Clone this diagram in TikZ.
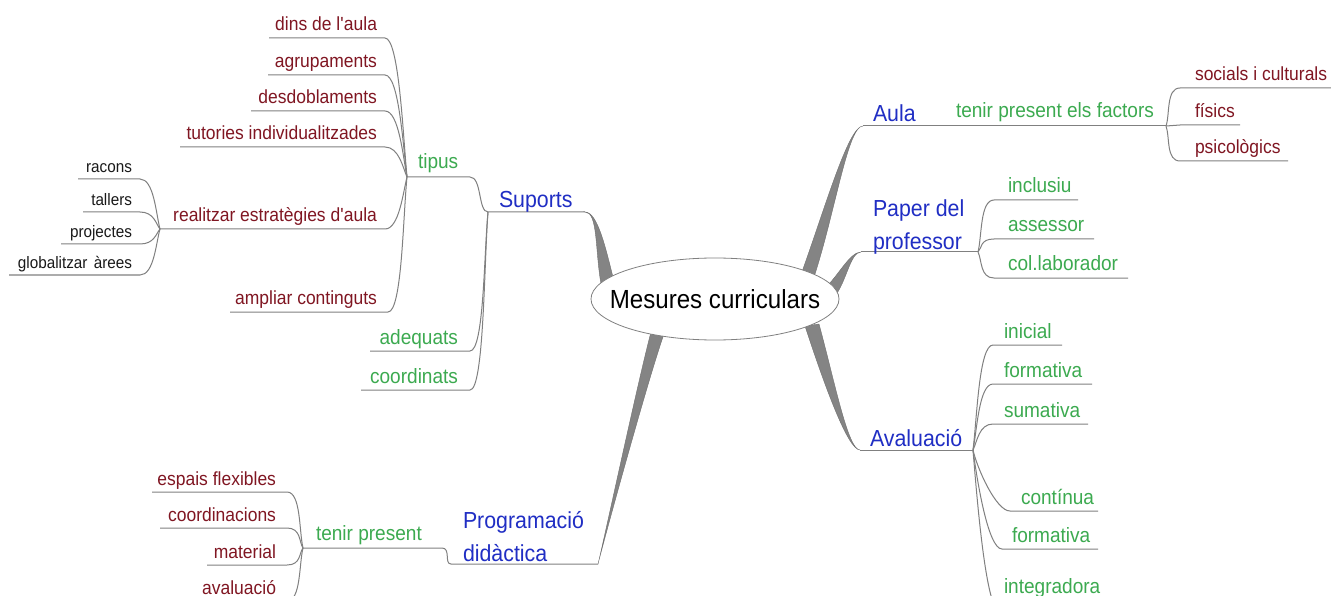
\documentclass[tikz,border=0pt]{standalone}
\usepackage{fontspec}
\setmainfont{Liberation Sans}[FakeStretch=0.92]
\usetikzlibrary{calc,shapes.geometric}
\definecolor{bluT}{RGB}{32,46,196}
\definecolor{grnT}{RGB}{60,170,80}
\definecolor{redT}{RGB}{128,22,34}
\definecolor{smlT}{RGB}{25,25,25}
\definecolor{lineC}{RGB}{128,128,128}
\definecolor{trunkC}{RGB}{132,132,132}
\begin{document}
\begin{tikzpicture}[x=1pt,y=1pt,
  lnk/.style={draw=lineC, line width=1pt},
  trunk/.style={fill=trunkC, draw=trunkC!85!black, line width=0.4pt},
  txt/.style={inner sep=0pt, outer sep=0pt},
  bluN/.style={txt, text=bluT, font=\fontsize{23.2}{33}\selectfont},
  grnN/.style={txt, text=grnT, font=\fontsize{20.7}{25}\selectfont},
  redN/.style={txt, text=redT, font=\fontsize{19.0}{23}\selectfont},
  smlN/.style={txt, text=smlT, font=\fontsize{16.6}{20}\selectfont}]
\useasboundingbox (0,0) rectangle (1331,-596);
\fill[white] (0,0) rectangle (1331,-596);
\clip (0,0) rectangle (1331,-596);

% ---------- coordinates ----------
% Suports
\coordinate (sF) at (488,-212); \coordinate (sE) at (585,-212);
\coordinate (tF) at (407,-177); \coordinate (tE) at (470,-177);
\coordinate (dR) at (385,-38);  \coordinate (dL) at (269,-38);
\coordinate (gR) at (385,-75);  \coordinate (gL) at (268,-75);
\coordinate (eR) at (385,-111); \coordinate (eL) at (251,-111);
\coordinate (uR) at (385,-147); \coordinate (uL) at (180,-147);
\coordinate (rR) at (385,-229); \coordinate (rF) at (160,-229);
\coordinate (aR) at (388,-312); \coordinate (aL) at (230,-312);
\coordinate (kR) at (140,-179); \coordinate (kL) at (78,-179);
\coordinate (lR) at (140,-212); \coordinate (lL) at (83,-212);
\coordinate (jR) at (140,-244); \coordinate (jL) at (61,-244);
\coordinate (bR) at (140,-275); \coordinate (bL) at (9,-275);
\coordinate (qR) at (470,-351); \coordinate (qL) at (370,-351);
\coordinate (oR) at (470,-390); \coordinate (oL) at (361,-390);
% Programacio
\coordinate (pS) at (451,-564); \coordinate (pE) at (598,-564);
\coordinate (tpF) at (303,-548); \coordinate (tpR) at (442,-548);
\coordinate (x1R) at (287,-492); \coordinate (x1L) at (152,-492);
\coordinate (x2R) at (287,-528); \coordinate (x2L) at (160,-528);
\coordinate (x3R) at (287,-565); \coordinate (x3L) at (207,-565);
\coordinate (x4R) at (287,-601); \coordinate (x4L) at (200,-601);
% Aula
\coordinate (aS) at (863,-126); \coordinate (aF) at (1166,-126);
\coordinate (y1L) at (1180,-88);  \coordinate (y1E) at (1331,-88);
\coordinate (y2L) at (1180,-125); \coordinate (y2E) at (1240,-125);
\coordinate (y3L) at (1180,-161); \coordinate (y3E) at (1288,-161);
% Paper
\coordinate (ppS) at (861,-252); \coordinate (ppF) at (978,-252);
\coordinate (z1L) at (994,-200); \coordinate (z1E) at (1078,-200);
\coordinate (z2L) at (994,-239); \coordinate (z2E) at (1094,-239);
\coordinate (z3L) at (994,-278); \coordinate (z3E) at (1128,-278);
% Avaluacio
\coordinate (avS) at (860,-450); \coordinate (avF) at (973,-450);
\coordinate (w1L) at (993,-345);  \coordinate (w1E) at (1062,-345);
\coordinate (w2L) at (993,-384);  \coordinate (w2E) at (1092,-384);
\coordinate (w3L) at (993,-424);  \coordinate (w3E) at (1088,-424);
\coordinate (w4L) at (1010,-511); \coordinate (w4E) at (1098,-511);
\coordinate (w5L) at (1002,-549); \coordinate (w5E) at (1098,-549);
\coordinate (w6L) at (1000,-612); \coordinate (w6E) at (1105,-612);

% ---------- thick branches ----------
\fill[trunk] (601,-284) .. controls (595,-250) and (598,-212) .. (sE)
   .. controls (598,-212) and (606,-250) .. (614,-281) -- cycle;
\fill[trunk] (799,-280) .. controls (824,-212) and (848,-126) .. (aS)
   .. controls (848,-126) and (836,-208) .. (815,-274) -- cycle;
\fill[trunk] (826,-287) .. controls (838,-276) and (850,-252) .. (ppS)
   .. controls (850,-252) and (846,-284) .. (834,-297) -- cycle;
\fill[trunk] (805,-326) .. controls (825,-387) and (848,-450) .. (avS)
   .. controls (848,-450) and (835,-383) .. (819,-324) -- cycle;
\fill[trunk] (651,-332) .. controls (638,-381) and (604,-540) .. (pE)
   .. controls (604,-540) and (648,-379) .. (664,-334) -- cycle;

% ---------- thin links ----------
\draw[lnk] (tF) -- (tE) .. controls +(12,0) and +(-10,0) .. (sF) -- (sE);
\draw[lnk] (tF) .. controls +(-4,42) and +(14,0) .. (dR) -- (dL);
\draw[lnk] (tF) .. controls +(-4,31) and +(14,0) .. (gR) -- (gL);
\draw[lnk] (tF) .. controls +(-4,20) and +(14,0) .. (eR) -- (eL);
\draw[lnk] (tF) .. controls +(-4,9) and +(14,0) .. (uR) -- (uL);
\draw[lnk] (tF) .. controls +(-4,-16) and +(14,0) .. (rR) -- (rF);
\draw[lnk] (tF) .. controls +(-4,-40) and +(14,0) .. (aR) -- (aL);
\draw[lnk] (rF) .. controls +(-4,15) and +(14,0) .. (kR) -- (kL);
\draw[lnk] (rF) .. controls +(-4,5) and +(14,0) .. (lR) -- (lL);
\draw[lnk] (rF) .. controls +(-4,-5) and +(14,0) .. (jR) -- (jL);
\draw[lnk] (rF) .. controls +(-4,-14) and +(14,0) .. (bR) -- (bL);
\draw[lnk] (sF) .. controls +(-4,-42) and +(14,0) .. (qR) -- (qL);
\draw[lnk] (sF) .. controls +(-4,-53) and +(14,0) .. (oR) -- (oL);

\draw[lnk] (tpF) -- (tpR) .. controls +(9,0) and +(-7,0) .. (pS) -- (pE);
\draw[lnk] (tpF) .. controls +(-4,17) and +(14,0) .. (x1R) -- (x1L);
\draw[lnk] (tpF) .. controls +(-4,6) and +(14,0) .. (x2R) -- (x2L);
\draw[lnk] (tpF) .. controls +(-4,-5) and +(14,0) .. (x3R) -- (x3L);
\draw[lnk] (tpF) .. controls +(-4,-16) and +(14,0) .. (x4R) -- (x4L);

\draw[lnk] (aS) -- (aF);
\draw[lnk] (aF) .. controls +(4,11) and +(-14,0) .. (y1L) -- (y1E);
\draw[lnk] (aF) -- (y2L) -- (y2E);
\draw[lnk] (aF) .. controls +(4,-11) and +(-14,0) .. (y3L) -- (y3E);

\draw[lnk] (ppS) -- (ppF);
\draw[lnk] (ppF) .. controls +(4,16) and +(-14,0) .. (z1L) -- (z1E);
\draw[lnk] (ppF) .. controls +(4,4) and +(-14,0) .. (z2L) -- (z2E);
\draw[lnk] (ppF) .. controls +(4,-8) and +(-14,0) .. (z3L) -- (z3E);

\draw[lnk] (avS) -- (avF);
\draw[lnk] (avF) .. controls +(4,32) and +(-14,0) .. (w1L) -- (w1E);
\draw[lnk] (avF) .. controls +(4,20) and +(-14,0) .. (w2L) -- (w2E);
\draw[lnk] (avF) .. controls +(4,8) and +(-14,0) .. (w3L) -- (w3E);
\draw[lnk] (avF) .. controls +(4,-18) and +(-14,0) .. (w4L) -- (w4E);
\draw[lnk] (avF) .. controls +(4,-30) and +(-14,0) .. (w5L) -- (w5E);
\draw[lnk] (avF) .. controls +(4,-49) and +(-14,0) .. (w6L) -- (w6E);

% ---------- central node ----------
\node[ellipse, draw=lineC, line width=0.8pt, fill=white, minimum width=248, minimum height=82,
      inner sep=0pt, font=\fontsize{26.2}{30}\selectfont] (c) at (715,-299)
      {\makebox[0pt]{Mesures curriculars}};

% ---------- texts ----------
\node[bluN, anchor=base west] (sup) at (499,-208) {Suports};
\node[grnN, anchor=base west] (tip) at (418,-169) {tipus};
\node[redN, anchor=base east] (t1) at (377,-31) {dins de l\textquotesingle aula};
\node[redN, anchor=base east] (t2) at (377,-68) {agrupaments};
\node[redN, anchor=base east] (t3) at (377,-104) {desdoblaments};
\node[redN, anchor=base east] (t4) at (377,-140) {tutories individualitzades};
\node[redN, anchor=base east] (t5) at (377,-222) {realitzar estratègies d\textquotesingle aula};
\node[redN, anchor=base east] (t6) at (377,-305) {ampliar continguts};
\node[smlN, anchor=base east] (r1) at (132,-173) {racons};
\node[smlN, anchor=base east] (r2) at (132,-206) {tallers};
\node[smlN, anchor=base east] (r3) at (132,-238) {projectes};
\node[smlN, anchor=base east] (r4) at (132,-269) {globalitzar\hspace{0.12em} àrees};
\node[grnN, anchor=base east] (s1) at (458,-344) {adequats};
\node[grnN, anchor=base east] (s2) at (458,-383) {coordinats};

\node[bluN, anchor=south west, align=left] (prog) at (463,-562) {Programació\\didàctica};
\node[grnN, anchor=base west] (tp) at (316,-540) {tenir present};
\node[redN, anchor=base east] (p1) at (276,-485) {espais flexibles};
\node[redN, anchor=base east] (p2) at (276,-521) {coordinacions};
\node[redN, anchor=base east] (p3) at (276,-558) {material};
\node[redN, anchor=base east] (p4) at (276,-594) {avaluació};

\node[bluN, anchor=base west] (aula) at (873,-122) {Aula};
\node[grnN, anchor=base west] (tf) at (956,-118) {tenir present els factors};
\node[redN, anchor=base west] (f1) at (1195,-81) {socials i culturals};
\node[redN, anchor=base west] (f2) at (1195,-118) {físics};
\node[redN, anchor=base west] (f3) at (1195,-154) {psicològics};

\node[bluN, anchor=south west, align=left] (pap) at (873,-254) {Paper del\\professor};
\node[grnN, anchor=base west] (g1) at (1008,-193) {inclusiu};
\node[grnN, anchor=base west] (g2) at (1008,-232) {assessor};
\node[grnN, anchor=base west] (g3) at (1008,-271) {col.laborador};

\node[bluN, anchor=base west] (aval) at (870,-446) {Avaluació};
\node[grnN, anchor=base west] (v1) at (1004,-338) {inicial};
\node[grnN, anchor=base west] (v2) at (1004,-377) {formativa};
\node[grnN, anchor=base west] (v3) at (1004,-417) {sumativa};
\node[grnN, anchor=base west] (v4) at (1021,-504) {contínua};
\node[grnN, anchor=base west] (v5) at (1012,-542) {formativa};
\node[grnN, anchor=base west] (v6) at (1004,-593) {integradora};
\end{tikzpicture}
\end{document}
